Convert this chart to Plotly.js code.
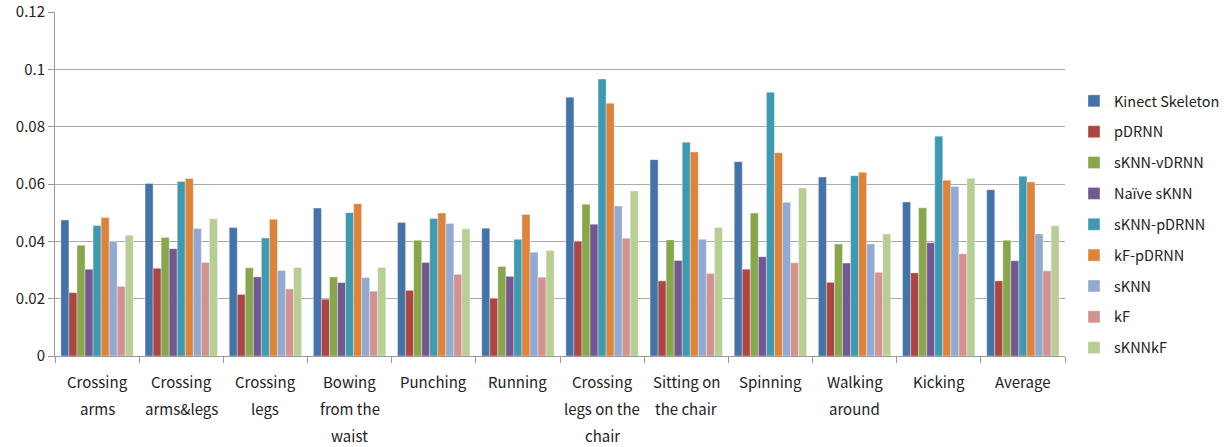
<!DOCTYPE html>
<html><head><meta charset="utf-8">
<script src="https://cdn.plot.ly/plotly-3.0.1.min.js"></script>
<style>body{margin:0;background:#fff}#chart{width:1226px;height:447px}</style>
</head><body><div id="chart"></div>
<script>
const categories = ["Crossing<br>arms","Crossing<br>arms&legs","Crossing<br>legs","Bowing<br>from the<br>waist","Punching","Running","Crossing<br>legs on the<br>chair","Sitting on<br>the chair","Spinning","Walking<br>around","Kicking","Average"];
const seriesNames = ["Kinect Skeleton","pDRNN","sKNN-vDRNN","Naïve sKNN","sKNN-pDRNN","kF-pDRNN","sKNN","kF","sKNNkF"];
const kinectSkeleton = [0.0474,0.0602,0.0448,0.0516,0.0466,0.0446,0.0903,0.0685,0.0678,0.0624,0.0537,0.0580];
const pDRNN          = [0.0221,0.0306,0.0215,0.0198,0.0229,0.0201,0.0400,0.0262,0.0303,0.0257,0.0290,0.0262];
const sKNNvDRNN      = [0.0386,0.0413,0.0308,0.0276,0.0404,0.0312,0.0529,0.0405,0.0499,0.0391,0.0517,0.0404];
const naiveSKNN      = [0.0303,0.0374,0.0276,0.0256,0.0326,0.0278,0.0460,0.0333,0.0346,0.0324,0.0395,0.0332];
const sKNNpDRNN      = [0.0455,0.0609,0.0412,0.0500,0.0480,0.0407,0.0966,0.0746,0.0920,0.0629,0.0767,0.0627];
const kFpDRNN        = [0.0483,0.0619,0.0477,0.0531,0.0499,0.0494,0.0882,0.0712,0.0709,0.0641,0.0613,0.0607];
const sKNN           = [0.0399,0.0445,0.0298,0.0274,0.0462,0.0362,0.0523,0.0407,0.0536,0.0391,0.0591,0.0426];
const kF             = [0.0243,0.0326,0.0234,0.0226,0.0285,0.0275,0.0411,0.0288,0.0325,0.0292,0.0357,0.0297];
const sKNNkF         = [0.0421,0.0479,0.0309,0.0309,0.0444,0.0368,0.0576,0.0448,0.0586,0.0426,0.0620,0.0454];
const seriesValues = [kinectSkeleton,pDRNN,sKNNvDRNN,naiveSKNN,sKNNpDRNN,kFpDRNN,sKNN,kF,sKNNkF];
const colors = ["#4572A7","#AA4643","#89A54E","#71588F","#4198AF","#DB843D","#93A9CF","#D19392","#B9CD96"];

const font = "'Noto Sans CJK KR','Noto Sans',sans-serif";
const data = seriesNames.map((n,i)=>({
  type:'bar', name:n, x:categories, y:seriesValues[i],
  legendgroup:'g'+i,
  marker:{color:colors[i], line:{color:'rgba(255,255,255,0.6)', width:0.6}},
  hoverinfo:'name+y'
}));
// category labels: one text line per annotation, to reproduce the wide line spacing
const annotations = [];
categories.forEach(c=>{
  c.split('<br>').forEach((line,k)=>{
    annotations.push({x:c, xref:'x', y:0, yref:'paper', yanchor:'middle', xanchor:'center',
      yshift:-(25+27*k), text:line, showarrow:false, font:{family:font, size:15, color:'#222'}});
  });
});
const layout = {
  width:1226, height:447,
  margin:{l:55, r:161, t:12, b:91},
  paper_bgcolor:'#fff', plot_bgcolor:'#fff',
  font:{family:font, size:15, color:'#222'},
  barmode:'group', bargap:0.14, bargroupgap:0,
  showlegend:true,
  legend:{xref:'container', yref:'container', x:0.876, xanchor:'left', y:0.81, yanchor:'top',
          traceorder:'grouped', tracegroupgap:9, maxheight:447,
          font:{family:font, size:14.5, color:'#222'}, itemwidth:30},
  annotations:annotations,
  xaxis:{type:'category', showline:true, linecolor:'#999', linewidth:1, ticks:'outside', tickson:'boundaries',
         ticklen:6, tickcolor:'#999', showgrid:false, showticklabels:false},
  yaxis:{range:[0,0.12], dtick:0.02, showline:true, linecolor:'#999', linewidth:1, ticks:'outside', ticklen:6,
         tickcolor:'#999', showgrid:true, gridcolor:'#ABABAB', gridwidth:1, zeroline:false, tickfont:{size:15}}
};
Plotly.newPlot('chart', data, layout, {displayModeBar:false, staticPlot:true});
</script></body></html>
